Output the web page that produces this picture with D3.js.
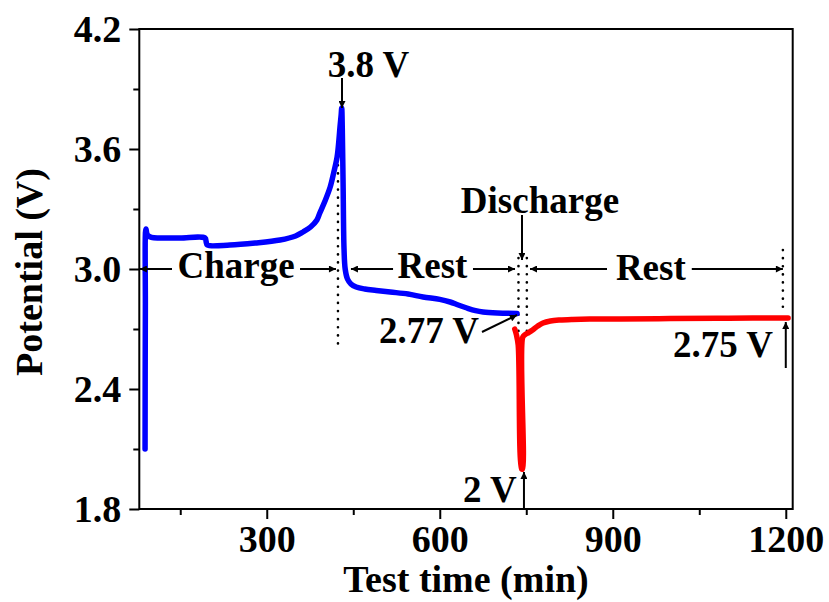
<!DOCTYPE html>
<html>
<head>
<meta charset="utf-8">
<script src="https://cdn.jsdelivr.net/npm/d3@7"></script>
<style>
  html, body { margin: 0; padding: 0; background: #fff; }
  svg { display: block; }
  text { font-family: "Liberation Serif", "Times New Roman", serif; font-weight: bold; fill: #000; }
</style>
</head>
<body>
<script>
// ---------- data ----------
const chargeTime = [89, 89.5, 90.5, 93, 100, 115, 150, 193, 195, 197, 236, 280, 323, 350, 363, 376, 387, 392, 401, 410, 416, 422, 425, 427, 429, 430, 431, 432.5, 434, 436, 440, 446, 455, 470, 490, 514, 545, 571, 600, 618, 632, 647, 662, 675, 700, 734];
const chargeVolt = [2.10, 2.8, 3.20, 3.17, 3.158, 3.155, 3.155, 3.155, 3.135, 3.12, 3.12, 3.13, 3.145, 3.165, 3.185, 3.21, 3.245, 3.28, 3.34, 3.41, 3.48, 3.56, 3.64, 3.71, 3.77, 3.805, 3.7, 3.4, 3.1, 3.0, 2.95, 2.925, 2.91, 2.90, 2.893, 2.885, 2.875, 2.86, 2.848, 2.835, 2.82, 2.805, 2.792, 2.785, 2.78, 2.778];

const dischargeTime = [730, 733, 736, 742, 743.5, 744, 748, 754, 761, 770, 779, 792, 808, 830, 860, 912, 1000, 1100, 1204];
const dischargeVolt = [2.70, 2.67, 2.62, 2.0, 2.0, 2.66, 2.672, 2.682, 2.695, 2.715, 2.73, 2.74, 2.745, 2.748, 2.75, 2.75, 2.752, 2.754, 2.755];

const xMajorTicks = [300, 600, 900, 1200];
const xMinorTicks = [150, 450, 750, 1050];
const yMajorTicks = [1.8, 2.4, 3.0, 3.6, 4.2];
const yMinorTicks = [2.1, 2.7, 3.3, 3.9];

// stage boundary dotted lines
const boundaryTime = [423.5, 736.5, 751, 1195];
const boundaryTop  = [3.6, 3.055, 3.055, 3.095];
const boundaryBot  = [2.62, 2.66, 2.66, 2.78];

// labels: text, time, volt (baseline)
const labelText = ["Charge", "Rest", "Discharge", "Rest", "3.8 V", "2.77 V", "2.75 V", "2 V"];
const labelTime = [246.7, 587.4, 773.8, 966, 476.4, 581.3, 1091, 687];
const labelVolt = [2.955, 2.955, 3.28, 2.945, 3.96, 2.63, 2.56, 1.835];

// arrows: from (t0,v0) to (t1,v1), head at end
const arrowT0 = [135.7, 357.7, 519, 657.6, 890, 1037, 742.6, 430.5, 673.2, 1200, 746];
const arrowV0 = [3.0, 3.0, 3.0, 3.0, 3.0, 3.0, 3.27, 3.955, 2.685, 2.505, 1.805];
const arrowT1 = [80, 420, 446, 730.5, 756.5, 1195, 742.6, 430.5, 733.9, 1200, 746];
const arrowV1 = [3.0, 3.0, 3.0, 3.0, 3.0, 3.0, 3.045, 3.805, 2.77, 2.735, 1.985];

// ---------- chart ----------
const W = 829, H = 602;
const svg = d3.select("body").append("svg").attr("width", W).attr("height", H);

const x = d3.scaleLinear().domain([79, 1212]).range([139.3, 792.7]);
const y = d3.scaleLinear().domain([1.8, 4.2]).range([509, 29]);

const defs = svg.append("defs");
defs.append("marker").attr("id", "ah")
  .attr("viewBox", "0 0 10 10").attr("refX", 10).attr("refY", 5)
  .attr("markerWidth", 9).attr("markerHeight", 7).attr("markerUnits", "userSpaceOnUse")
  .attr("orient", "auto")
  .append("path").attr("d", "M0,0 L10,5 L0,10 Z").attr("fill", "#000");

// dotted boundary lines
boundaryTime.forEach((t, i) => {
  svg.append("line")
    .attr("x1", x(t)).attr("x2", x(t))
    .attr("y1", y(boundaryTop[i])).attr("y2", y(boundaryBot[i]))
    .attr("stroke", "#000").attr("stroke-width", 2.6)
    .attr("stroke-linecap", "round").attr("stroke-dasharray", "0.1,8");
});

const line = d3.line().x(d => x(d[0])).y(d => y(d[1])).curve(d3.curveCatmullRom.alpha(0.5));
svg.append("path")
  .datum(chargeTime.map((t, i) => [t, chargeVolt[i]]))
  .attr("d", line).attr("fill", "none").attr("stroke", "#0000ff")
  .attr("stroke-width", 5.5).attr("stroke-linejoin", "round").attr("stroke-linecap", "round");
svg.append("path")
  .datum(dischargeTime.map((t, i) => [t, dischargeVolt[i]]))
  .attr("d", line).attr("fill", "none").attr("stroke", "#ff0000")
  .attr("stroke-width", 5.5).attr("stroke-linejoin", "round").attr("stroke-linecap", "round");

// frame
svg.append("rect")
  .attr("x", x.range()[0]).attr("y", y.range()[1])
  .attr("width", x.range()[1] - x.range()[0]).attr("height", y.range()[0] - y.range()[1])
  .attr("fill", "none").attr("stroke", "#000").attr("stroke-width", 2);

// axes
const axisFont = "38px";
const gx = svg.append("g").attr("transform", `translate(0,${y.range()[0]})`)
  .call(d3.axisBottom(x).tickValues(xMajorTicks).tickSize(10).tickPadding(6).tickFormat(d3.format("d")));
const gxm = svg.append("g").attr("transform", `translate(0,${y.range()[0]})`)
  .call(d3.axisBottom(x).tickValues(xMinorTicks).tickSize(6).tickFormat(""));
const gy = svg.append("g").attr("transform", `translate(${x.range()[0]},0)`)
  .call(d3.axisLeft(y).tickValues(yMajorTicks).tickSize(10).tickPadding(8).tickFormat(d3.format(".1f")));
const gym = svg.append("g").attr("transform", `translate(${x.range()[0]},0)`)
  .call(d3.axisLeft(y).tickValues(yMinorTicks).tickSize(6).tickFormat(""));
[gx, gxm, gy, gym].forEach(g => {
  g.select(".domain").remove();
  g.selectAll(".tick line").attr("stroke", "#000").attr("stroke-width", 2);
  g.selectAll("text").attr("font-size", axisFont)
    .attr("font-family", '"Liberation Serif", "Times New Roman", serif')
    .attr("font-weight", "bold").attr("fill", "#000");
});
gx.selectAll("text").attr("dy", "0.71em");

// axis titles
svg.append("text").attr("x", 466).attr("y", 592).attr("text-anchor", "middle")
  .attr("font-size", "38px").text("Test time (min)");
svg.append("text").attr("transform", "translate(42,272) rotate(-90)")
  .attr("text-anchor", "middle").attr("font-size", "38px").text("Potential (V)");

// arrows
arrowT0.forEach((t, i) => {
  svg.append("line")
    .attr("x1", x(t)).attr("y1", y(arrowV0[i]))
    .attr("x2", x(arrowT1[i])).attr("y2", y(arrowV1[i]))
    .attr("stroke", "#000").attr("stroke-width", 2)
    .attr("marker-end", "url(#ah)");
});

// labels
labelText.forEach((s, i) => {
  svg.append("text").attr("x", x(labelTime[i])).attr("y", y(labelVolt[i]))
    .attr("text-anchor", "middle").attr("font-size", "37px").text(s);
});
</script>
</body>
</html>
